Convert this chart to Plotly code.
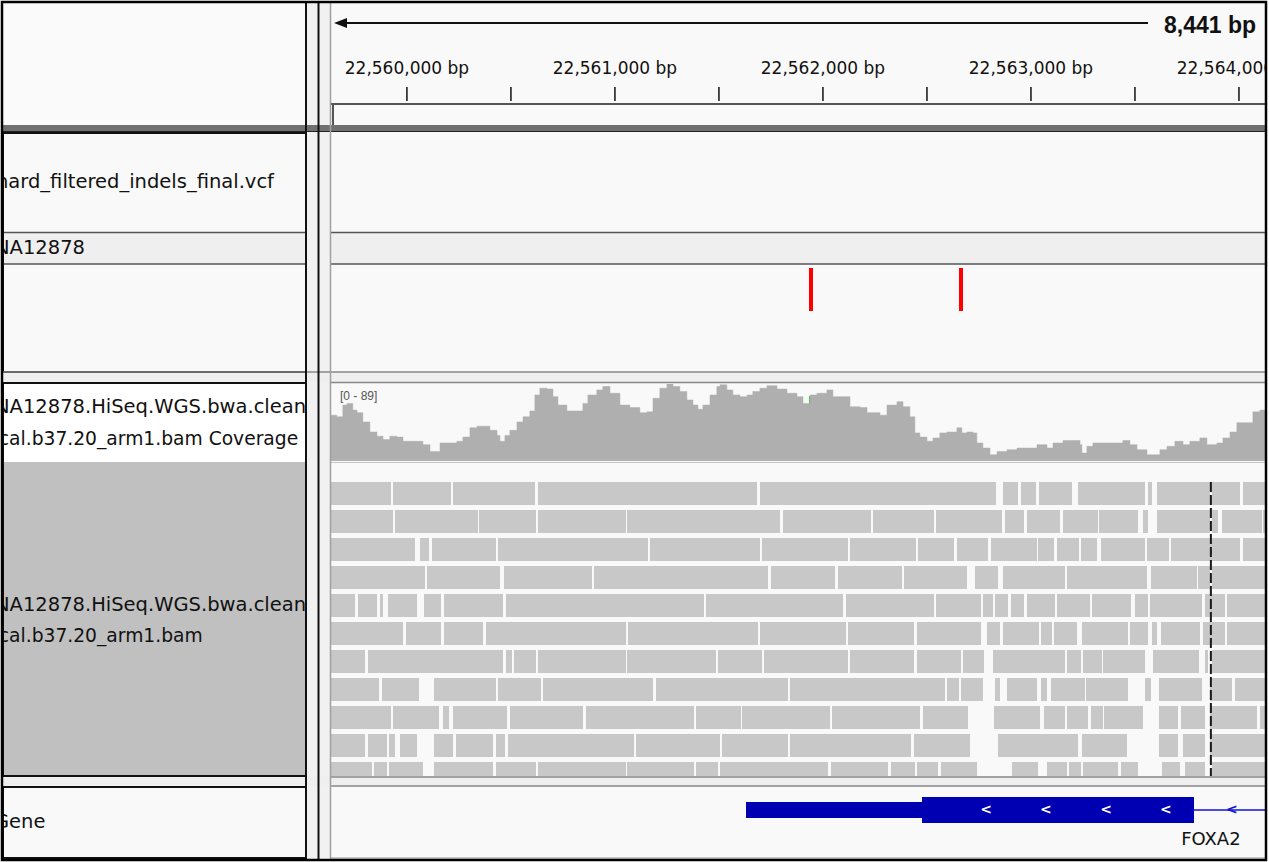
import plotly.graph_objects as go

W, H = 1269, 862

# ------------------------------------------------------------------ data
ORIGIN = 22560000                      # genomic origin; offsets below are relative to it
view_start = 22559635
view_end = 22564130
locus_width_label = "8,441 bp"
major_ticks = [22560000, 22561000, 22562000, 22563000, 22564000]
minor_ticks = [22560500, 22561500, 22562500, 22563500]

track_names = ["hard_filtered_indels_final.vcf", "NA12878",
               "NA12878.HiSeq.WGS.bwa.cleaned", "NA12878.HiSeq.WGS.bwa.cleaned", "Gene"]
track_names_wrapped = ["recal.b37.20_arm1.bam Coverage", "recal.b37.20_arm1.bam"]

variant_pos = [22561942, 22562663]

coverage_range_label = "[0 - 89]"
cov_max = 89
cov_off = [-365, -337, -308, -288, -260, -240, -212, -178, -144, -115, -82, -48, -19, 14, 48, 77, 111, 135,
           159, 207, 240, 269, 303, 337, 365, 399, 433, 447, 471, 495, 529, 558, 591, 615, 639, 673, 702,
           726, 769, 817, 846, 870, 913, 942, 976, 1024, 1072, 1120, 1154, 1183, 1216, 1250, 1279, 1312,
           1346, 1375, 1399, 1423, 1457, 1490, 1505, 1538, 1567, 1601, 1635, 1663, 1697, 1731, 1779, 1827,
           1875, 1904, 1938, 1971, 2019, 2048, 2096, 2130, 2178, 2212, 2240, 2274, 2308, 2356, 2385, 2418,
           2442, 2466, 2500, 2529, 2562, 2596, 2644, 2668, 2692, 2721, 2740, 2769, 2803, 2837, 2885, 2933,
           2981, 3029, 3077, 3106, 3154, 3202, 3236, 3245, 3269, 3298, 3346, 3394, 3442, 3476, 3510, 3558,
           3587, 3620, 3654, 3692, 3731, 3764, 3812, 3846, 3894, 3923, 3957, 3990, 4038, 4067, 4101, 4130]
cov_depth = [52, 50, 64, 66, 58, 55, 44, 32, 27, 23, 27, 26, 21, 21, 21, 17, 9, 9,
             19, 19, 21, 26, 37, 39, 39, 34, 28, 21, 28, 34, 44, 50, 57, 76, 84, 83, 74,
             64, 57, 57, 66, 76, 82, 86, 78, 64, 61, 55, 56, 72, 84, 89, 86, 80,
             70, 64, 59, 64, 76, 86, 88, 82, 76, 74, 76, 80, 84, 87, 83, 78,
             74, 66, 76, 78, 82, 74, 74, 62, 61, 55, 55, 52, 64, 68, 62, 50,
             31, 26, 21, 25, 31, 32, 37, 31, 32, 31, 19, 13, 5, 9, 11, 13,
             13, 17, 13, 19, 22, 22, 17, 7, 15, 19, 19, 19, 22, 17, 11, 5,
             5, 11, 15, 21, 17, 21, 25, 17, 19, 25, 32, 43, 43, 56, 58, 49]

allele_pos = [22561942, 22562663]
allele_depth = [75, 31]
allele_color = ["#22dd22", "#1414e6"]

read_rows = [
    [(-400, -77), (-67, 212), (221, 615), (630, 1683), (1697, 2832), (2865, 2937), (2952, 3024), (3038, 3197),
     (3226, 3548), (3562, 3582), (3606, 3861), (3870, 4005), (4019, 4200)],
    [(-400, -66), (-56, 340), (348, 619), (628, 1051), (1059, 1795), (1806, 2229), (2239, 2535), (2543, 2862),
     (2875, 2968), (2979, 3141), (3152, 3321), (3327, 3516), (3540, 3564), (3604, 3861), (3870, 3899),
     (3917, 4109), (4117, 4200)],
    [(-400, 38), (63, 107), (119, 428), (436, 1157), (1168, 1697), (1707, 2119), (2130, 2446), (2458, 2631),
     (2643, 2795), (2806, 3027), (3035, 3112), (3124, 3231), (3239, 3316), (3337, 3548), (3556, 3663),
     (3673, 4005), (4018, 4200)],
    [(-400, 88), (98, 447), (466, 888), (899, 1737), (1749, 2058), (2071, 2378), (2389, 2691), (2731, 2843),
     (2864, 3163), (3172, 3556), (3577, 3797), (3803, 3861), (3869, 4200)],
    [(-400, -250), (-237, -143), (-130, -114), (-93, 50), (82, 163), (178, 463), (475, 1428), (1437, 2098),
     (2111, 2535), (2543, 2760), (2771, 2816), (2827, 2891), (2902, 2966), (2979, 3115), (3126, 3284),
     (3295, 3479), (3500, 3564), (3572, 3821), (3837, 3933), (3941, 4200)],
    [(-400, -18), (-6, 163), (176, 367), (378, 1053), (1064, 1686), (1697, 2111), (2122, 2439), (2450, 2758),
     (2787, 2851), (2864, 3040), (3048, 3102), (3112, 3220), (3244, 3468), (3476, 3564), (3580, 3604),
     (3625, 3812), (3828, 3933), (3941, 4200)],
    [(-400, -202), (-189, 463), (475, 503), (516, 619), (628, 1051), (1059, 1486), (1497, 1707), (1716, 2119),
     (2130, 2439), (2450, 2663), (2672, 2774), (2816, 3163), (3172, 3240), (3249, 3340), (3348, 3548),
     (3585, 3809), (3837, 3851), (3869, 4200)],
    [(-400, -133), (-122, 59), (128, 426), (436, 644), (655, 1184), (1196, 1833), (1841, 2587), (2595, 2655),
     (2663, 2768), (2827, 2851), (2883, 3030), (3047, 3075), (3095, 3260), (3264, 3468), (3548, 3575),
     (3615, 3821), (3861, 3968), (3981, 4200)],
    [(-400, -77), (-66, 154), (175, 203), (223, 482), (495, 848), (859, 1380), (1389, 1604), (1612, 2034),
     (2045, 2466), (2482, 2699), (2824, 3043), (3064, 3163), (3172, 3275), (3287, 3345), (3352, 3537),
     (3615, 3708), (3720, 3837), (3861, 4085), (4101, 4200)],
    [(-400, -202), (-189, -95), (-85, -58), (-34, 50), (128, 223), (234, 415), (426, 473), (484, 1091),
     (1101, 1505), (1514, 1833), (1841, 2423), (2439, 2707), (2843, 3227), (3244, 3460), (3615, 3708),
     (3729, 3837), (3861, 4200)],
    [(-400, -170), (-159, -95), (-85, 78), (128, 415), (426, 619), (628, 1051), (1059, 1380), (1389, 1497),
     (1505, 2025), (2037, 2314), (2325, 2442), (2450, 2554), (2566, 2739), (2907, 3035), (3075, 3172),
     (3184, 3240), (3249, 3420), (3431, 3516), (3628, 3716), (3740, 3837), (3869, 4200)],
]
marker_line_pos = 22563865

gene_name = "FOXA2"
gene_utr = (22561630, 22562476)
gene_cds = (22562476, 22563784)
gene_intron = (22563784, 22564600)
strand_marks_cds = [22562784, 22563072, 22563361, 22563649]
strand_marks_intron = [22563966]
gene_label_pos = 22563865

# ------------------------------------------------------------------ helpers
def px(x):
    return x / W


def py(y):
    return 1 - y / H


shapes = []


def rect(x0, y0, x1, y1, fill=None, line=None, lw=1, layer="below"):
    shapes.append(dict(type="rect", xref="paper", yref="paper", x0=px(x0), x1=px(x1), y0=py(y1), y1=py(y0),
                       fillcolor=fill or "rgba(0,0,0,0)",
                       line=dict(color=line or "rgba(0,0,0,0)", width=lw if line else 0), layer=layer))


def hline(y, x0, x1, color, lw=1, layer="above"):
    shapes.append(dict(type="line", xref="paper", yref="paper", x0=px(x0), x1=px(x1), y0=py(y), y1=py(y),
                       line=dict(color=color, width=lw), layer=layer))


def vline(x, y0, y1, color, lw=1, layer="above"):
    shapes.append(dict(type="line", xref="paper", yref="paper", x0=px(x), x1=px(x), y0=py(y0), y1=py(y1),
                       line=dict(color=color, width=lw), layer=layer))


FONT = "DejaVu Sans"
fig = go.Figure()

# ------------------------------------------------------------------ ruler
tx, ty = [], []
for t in major_ticks + minor_ticks:
    tx += [t, t, None]
    ty += [87, 101, None]
fig.add_trace(go.Scatter(x=tx, y=ty, mode="lines", line=dict(color="#111111", width=1.5),
                         xaxis="x", yaxis="y", hoverinfo="skip", showlegend=False))
fig.add_trace(go.Scatter(x=major_ticks, y=[70] * len(major_ticks), mode="text",
                         text=[f"{t:,} bp" for t in major_ticks],
                         textfont=dict(family=FONT, size=17, color="#111111"),
                         xaxis="x", yaxis="y", hoverinfo="skip", showlegend=False))

# ------------------------------------------------------------------ variants
fig.add_trace(go.Bar(x=variant_pos, y=[1] * len(variant_pos), base=0, width=19,
                     marker=dict(color="#ff0000", line=dict(width=0)),
                     xaxis="x", yaxis="y2", hoverinfo="skip", showlegend=False))

# ------------------------------------------------------------------ coverage
cx = [ORIGIN + o for o in cov_off]
fig.add_trace(go.Scatter(x=cx, y=cov_depth, mode="lines", line=dict(shape="hv", width=0.5, color="#afafaf"),
                         fill="tozeroy", fillcolor="#afafaf",
                         xaxis="x", yaxis="y3", hoverinfo="skip", showlegend=False))
fig.add_trace(go.Bar(x=allele_pos, y=allele_depth, base=0, width=9,
                     marker=dict(color=allele_color, line=dict(width=0)),
                     xaxis="x", yaxis="y3", hoverinfo="skip", showlegend=False))

# ------------------------------------------------------------------ reads
rb, rl, ry = [], [], []
for i, row in enumerate(read_rows):
    for s, e in row:
        rb.append(ORIGIN + s)
        rl.append(e - s)
        ry.append(i)
fig.add_trace(go.Bar(y=ry, x=rl, base=rb, orientation="h", width=0.82,
                     marker=dict(color="#c8c8c8", line=dict(width=0)),
                     xaxis="x", yaxis="y4", hoverinfo="skip", showlegend=False))
fig.add_trace(go.Scatter(x=[marker_line_pos, marker_line_pos], y=[-0.41, len(read_rows)], mode="lines",
                         line=dict(color="#1a1a1a", width=2, dash="10px,3px"),
                         xaxis="x", yaxis="y4", hoverinfo="skip", showlegend=False))

# ------------------------------------------------------------------ gene
GENE_BLUE = "#0000b2"
fig.add_trace(go.Scatter(x=list(gene_intron), y=[0, 0], mode="lines", line=dict(color="#1010d8", width=1.5),
                         xaxis="x", yaxis="y5", hoverinfo="skip", showlegend=False))
fig.add_trace(go.Bar(y=[0, 0], base=[gene_utr[0], gene_cds[0]],
                     x=[gene_utr[1] - gene_utr[0], gene_cds[1] - gene_cds[0]],
                     width=[1.6, 2.6], orientation="h",
                     marker=dict(color=GENE_BLUE, line=dict(width=0)),
                     xaxis="x", yaxis="y5", hoverinfo="skip", showlegend=False))
fig.add_trace(go.Scatter(x=strand_marks_cds, y=[0] * len(strand_marks_cds), mode="text",
                         text=["<b><</b>"] * len(strand_marks_cds),
                         textfont=dict(family=FONT, size=14, color="white"),
                         xaxis="x", yaxis="y5", hoverinfo="skip", showlegend=False))
fig.add_trace(go.Scatter(x=strand_marks_intron, y=[0] * len(strand_marks_intron), mode="text",
                         text=["<b><</b>"] * len(strand_marks_intron),
                         textfont=dict(family=FONT, size=14, color="#1010d8"),
                         xaxis="x", yaxis="y5", hoverinfo="skip", showlegend=False))
fig.add_trace(go.Scatter(x=[gene_label_pos], y=[-3.0], mode="text", text=[gene_name],
                         textfont=dict(family=FONT, size=18, color="#111111"),
                         xaxis="x", yaxis="y5", hoverinfo="skip", showlegend=False))

# ------------------------------------------------------------------ track names (clipped name panel)
name_y = [183, 249, 408, 606, 823]
name_x = [-4, -5, -5, -5, -6]
fig.add_trace(go.Scatter(x=[v - 3 for v in name_x], y=name_y, mode="text", text=track_names,
                         textposition="middle right",
                         textfont=dict(family=FONT, size=19.5, color="#111111"),
                         marker=dict(size=0),
                         xaxis="x2", yaxis="y6", hoverinfo="skip", showlegend=False))
wrap_y = [440, 637]
wrap_x = [-20, -20]
fig.add_trace(go.Scatter(x=[v - 3 for v in wrap_x], y=wrap_y, mode="text", text=track_names_wrapped,
                         textposition="middle right",
                         textfont=dict(family=FONT, size=18.7, color="#111111"),
                         marker=dict(size=0),
                         xaxis="x2", yaxis="y6", hoverinfo="skip", showlegend=False))

# ------------------------------------------------------------------ panel structure
rect(2, 2, 1266, 860, fill="#f9f9f9")
rect(307, 2, 330, 860, fill="#f1f1f1")
# header
rect(3, 3, 306, 125, fill="#fafafa")
hline(104, 331, 1266, "#555555", 2)
vline(333, 104, 125, "#555555", 2)
rect(2, 125, 1266, 131, fill="#707070", layer="above")
hline(131.5, 2, 1266, "#222222", 1)
# vcf group
rect(3, 232, 306, 264, fill="#efefef")
rect(331, 232, 1266, 264, fill="#efefef")
for yy in (232.5, 264):
    hline(yy, 3, 306, "#555555", 1.5)
    hline(yy, 331, 1266, "#555555", 1.5)
rect(3, 133, 306, 372, line="#111111", lw=2, layer="above")
# gap
rect(2, 372, 1266, 383, fill="#efefef")
hline(372, 2, 1266, "#888888", 1.5)
hline(382.5, 331, 1266, "#888888", 1.5)
# coverage / reads group
rect(3, 384, 306, 462, fill="#ffffff")
rect(3, 462, 306, 776, fill="#c0c0c0")
hline(460, 331, 1266, "#9a9a9a", 1.5)
hline(462.5, 331, 1266, "#c4c4c4", 1)
rect(3, 383, 306, 776, line="#111111", lw=2, layer="above")
# gap
rect(2, 776, 1266, 786, fill="#efefef")
hline(777, 331, 1266, "#888888", 1.5)
hline(786, 331, 1266, "#888888", 1.5)
# gene group
rect(3, 787, 306, 858, line="#111111", lw=2, layer="above")
hline(858, 331, 1266, "#999999", 1)
# dividers
vline(318.5, 3, 860, "#111111", 2)
vline(330.5, 3, 860, "#a0a0a0", 1.5)
vline(306, 3, 860, "#111111", 2)
rect(2, 2, 1266, 860, line="#000000", lw=2.5, layer="above")

# ruler width arrow
hline(23, 340, 1148, "#111111", 2)
shapes.append(dict(type="path", xref="paper", yref="paper",
                   path=f"M {px(334)} {py(23)} L {px(347)} {py(18)} L {px(347)} {py(28)} Z",
                   fillcolor="#111111", line=dict(width=0), layer="above"))

annotations = [
    dict(xref="paper", yref="paper", x=px(1258), y=py(25), text=f"<b>{locus_width_label}</b>",
         showarrow=False, xanchor="right", yanchor="middle",
         font=dict(family="Liberation Sans", size=23, color="#111111")),
    dict(xref="paper", yref="paper", x=px(338), y=py(396), text=coverage_range_label,
         showarrow=False, xanchor="left", yanchor="middle",
         font=dict(family="Liberation Sans", size=12, color="#555555")),
]

fig.update_layout(
    width=W, height=H, margin=dict(l=0, r=0, t=0, b=0),
    paper_bgcolor="#ffffff", plot_bgcolor="rgba(0,0,0,0)",
    barmode="overlay", bargap=0, showlegend=False,
    shapes=shapes, annotations=annotations,
    xaxis=dict(domain=[px(331), px(1266)], range=[view_start, view_end], visible=False, fixedrange=True),
    xaxis2=dict(domain=[px(3), px(306)], range=[0, 303], visible=False, fixedrange=True),
    yaxis=dict(domain=[py(125), py(3)], range=[125, 3], visible=False, anchor="x"),
    yaxis2=dict(domain=[py(311), py(268)], range=[0, 1], visible=False, anchor="x"),
    yaxis3=dict(domain=[py(459), py(384)], range=[0, cov_max], visible=False, anchor="x"),
    yaxis4=dict(domain=[py(776), py(462)], range=[10.09, -1.125], visible=False, anchor="x"),
    yaxis5=dict(domain=[py(858), py(787)], range=[-4.8, 2.3], visible=False, anchor="x"),
    yaxis6=dict(domain=[0, 1], range=[H, 0], visible=False, anchor="x2"),
)

fig.write_html("out.html", config={"displayModeBar": False},
               post_script="document.body.style.margin='0';document.body.style.overflow='hidden';")
